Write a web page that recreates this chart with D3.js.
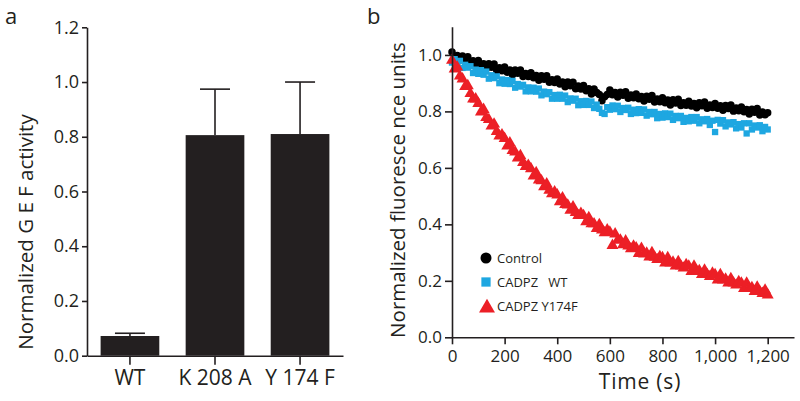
<!DOCTYPE html>
<html>
<head>
<meta charset="utf-8">
<script src="https://cdn.jsdelivr.net/npm/d3@7"></script>
<style>
  body { margin: 0; background: #fff; }
  svg { display: block; font-family: 'Open Sans', sans-serif; }
  .axis path, .axis line { stroke: #231f20; stroke-width: 1.6px; }
  .axis text { fill: #231f20; }
</style>
</head>
<body>
<script>
// ---- panel a: GEF activity
const mutants = ['WT', 'K 208 A', 'Y 174 F']
const gefMeans = [0.072, 0.806, 0.81]
const gefErrors = [0.01, 0.168, 0.19]
const gefTicks = [0, 0.2, 0.4, 0.6, 0.8, 1.0, 1.2]

// ---- panel b: fluorescence traces, one reading every 10 s from 0 to 1,200 s
const timeStep = 10
const controlValues = [
  1.010, 0.991, 0.998, 0.980, 0.996, 0.983, 0.994, 0.970, 0.979, 0.968,
  0.980, 0.962, 0.969, 0.952, 0.969, 0.956, 0.968, 0.945, 0.955, 0.944,
  0.957, 0.939, 0.947, 0.930, 0.947, 0.935, 0.947, 0.924, 0.934, 0.924,
  0.937, 0.919, 0.927, 0.910, 0.926, 0.914, 0.926, 0.903, 0.912, 0.902,
  0.915, 0.897, 0.904, 0.887, 0.904, 0.891, 0.903, 0.880, 0.890, 0.879,
  0.892, 0.873, 0.880, 0.862, 0.879, 0.867, 0.860, 0.838, 0.852, 0.860,
  0.876, 0.859, 0.867, 0.851, 0.868, 0.857, 0.870, 0.847, 0.858, 0.848,
  0.862, 0.845, 0.853, 0.837, 0.854, 0.843, 0.856, 0.833, 0.844, 0.834,
  0.848, 0.831, 0.840, 0.823, 0.841, 0.830, 0.843, 0.821, 0.831, 0.822,
  0.836, 0.819, 0.828, 0.813, 0.831, 0.820, 0.833, 0.811, 0.823, 0.814,
  0.828, 0.811, 0.820, 0.804, 0.821, 0.810, 0.823, 0.801, 0.812, 0.802,
  0.816, 0.799, 0.807, 0.791, 0.808, 0.797, 0.810, 0.787, 0.798, 0.788,
  0.795,
]
const wtValues = [
  0.973, 0.985, 0.969, 0.979, 0.954, 0.965, 0.955, 0.960, 0.936, 0.948,
  0.933, 0.946, 0.930, 0.941, 0.916, 0.928, 0.918, 0.924, 0.900, 0.913,
  0.898, 0.911, 0.897, 0.908, 0.884, 0.897, 0.888, 0.894, 0.871, 0.885,
  0.871, 0.884, 0.870, 0.881, 0.857, 0.870, 0.861, 0.868, 0.845, 0.858,
  0.845, 0.859, 0.845, 0.856, 0.833, 0.846, 0.838, 0.845, 0.822, 0.836,
  0.823, 0.837, 0.823, 0.835, 0.812, 0.824, 0.809, 0.795, 0.791, 0.815,
  0.806, 0.821, 0.808, 0.820, 0.798, 0.812, 0.805, 0.813, 0.791, 0.806,
  0.794, 0.808, 0.795, 0.807, 0.785, 0.798, 0.790, 0.798, 0.776, 0.791,
  0.778, 0.793, 0.780, 0.792, 0.770, 0.784, 0.776, 0.784, 0.763, 0.777,
  0.765, 0.780, 0.767, 0.780, 0.758, 0.772, 0.765, 0.773, 0.752, 0.767,
  0.727, 0.770, 0.757, 0.769, 0.747, 0.761, 0.754, 0.762, 0.740, 0.755,
  0.743, 0.758, 0.722, 0.758, 0.736, 0.750, 0.743, 0.751, 0.730, 0.745,
  0.736,
]
const y174fValues = [
  0.981, 0.950, 0.957, 0.925, 0.915, 0.888, 0.891, 0.863, 0.844, 0.844,
  0.828, 0.798, 0.807, 0.778, 0.771, 0.748, 0.755, 0.729, 0.713, 0.717,
  0.704, 0.677, 0.688, 0.661, 0.656, 0.635, 0.643, 0.619, 0.605, 0.609,
  0.597, 0.571, 0.583, 0.557, 0.554, 0.533, 0.543, 0.521, 0.508, 0.515,
  0.504, 0.480, 0.494, 0.470, 0.468, 0.450, 0.462, 0.442, 0.431, 0.439,
  0.431, 0.409, 0.424, 0.402, 0.402, 0.385, 0.399, 0.380, 0.370, 0.380,
  0.372, 0.325, 0.366, 0.344, 0.344, 0.328, 0.341, 0.323, 0.313, 0.323,
  0.317, 0.297, 0.315, 0.295, 0.298, 0.284, 0.300, 0.283, 0.275, 0.286,
  0.282, 0.263, 0.282, 0.263, 0.266, 0.252, 0.268, 0.252, 0.245, 0.257,
  0.252, 0.233, 0.252, 0.233, 0.236, 0.222, 0.238, 0.222, 0.215, 0.227,
  0.222, 0.203, 0.222, 0.203, 0.206, 0.192, 0.208, 0.192, 0.185, 0.197,
  0.192, 0.173, 0.192, 0.173, 0.176, 0.162, 0.178, 0.162, 0.155, 0.167,
  0.150,
]
const timeTicks = [0, 200, 400, 600, 800, 1000, 1200]
const fluorTicks = [0, 0.2, 0.4, 0.6, 0.8, 1.0]

const seriesDefs = [
  { name: 'Control', values: controlValues, color: '#000000', symbol: d3.symbolCircle, size: 44, legendSize: 95 },
  { name: 'CADPZ   WT', values: wtValues, color: '#1ea7e1', symbol: d3.symbolSquare, size: 40, legendSize: 86 },
  { name: 'CADPZ Y174F', values: y174fValues, color: '#ec1f26', symbol: d3.symbolTriangle, size: 62, legendSize: 110 },
]

const svg = d3.select('body').append('svg')
  .attr('width', 800)
  .attr('height', 401)

const ink = '#231f20'

// ================= panel a =================
const xa = d3.scaleBand()
  .domain(mutants)
  .range([87, 343])
  .paddingInner(0.31)
  .paddingOuter(0.16)

const ya = d3.scaleLinear()
  .domain([0, 1.2])
  .range([355.7, 27.3])

const panelA = svg.append('g')

panelA.selectAll('rect.bar')
  .data(mutants)
  .join('rect')
  .attr('class', 'bar')
  .attr('x', d => xa(d))
  .attr('width', xa.bandwidth())
  .attr('y', (d, i) => ya(gefMeans[i]))
  .attr('height', (d, i) => ya(0) - ya(gefMeans[i]))
  .attr('fill', ink)

const errG = panelA.selectAll('g.err')
  .data(mutants)
  .join('g')
  .attr('class', 'err')
  .attr('stroke', ink)
  .attr('stroke-width', 1.6)

errG.append('line')
  .attr('x1', d => xa(d) + xa.bandwidth() / 2)
  .attr('x2', d => xa(d) + xa.bandwidth() / 2)
  .attr('y1', (d, i) => ya(gefMeans[i]))
  .attr('y2', (d, i) => ya(gefMeans[i] + gefErrors[i]))

errG.append('line')
  .attr('x1', d => xa(d) + xa.bandwidth() / 2 - 15)
  .attr('x2', d => xa(d) + xa.bandwidth() / 2 + 15)
  .attr('y1', (d, i) => ya(gefMeans[i] + gefErrors[i]))
  .attr('y2', (d, i) => ya(gefMeans[i] + gefErrors[i]))

panelA.append('g')
  .attr('class', 'axis')
  .attr('transform', `translate(87,0)`)
  .call(d3.axisLeft(ya).tickValues(gefTicks).tickFormat(d3.format('.1f')).tickSize(5).tickSizeOuter(0).tickPadding(3))
  .call(g => g.selectAll('text').attr('font-size', 18).attr('font-family', 'Open Sans'))

panelA.append('g')
  .attr('class', 'axis')
  .attr('transform', `translate(0,${ya(0)})`)
  .call(d3.axisBottom(xa).tickSize(9).tickSizeOuter(0).tickPadding(5))
  .call(g => g.selectAll('text').attr('font-size', 21).attr('font-family', 'Open Sans'))

panelA.append('text')
  .attr('transform', 'translate(33,232) rotate(-90)')
  .attr('text-anchor', 'middle')
  .attr('font-size', 20.5)
  .attr('fill', ink)
  .text('Normalized G E F activity')

panelA.append('text')
  .attr('x', 5)
  .attr('y', 23.5)
  .attr('font-size', 22)
  .attr('fill', ink)
  .text('a')

// ================= panel b =================
const xb = d3.scaleLinear()
  .domain([0, 1300])
  .range([452, 794])

const yb = d3.scaleLinear()
  .domain([0, 1.1])
  .range([337.3, 26.7])

const panelB = svg.append('g')

seriesDefs.forEach(s => {
  const sym = d3.symbol().type(s.symbol).size(s.size)
  panelB.append('g')
    .selectAll('path')
    .data(s.values)
    .join('path')
    .attr('d', sym)
    .attr('transform', (d, i) => `translate(${xb(i * timeStep)},${yb(d)})`)
    .attr('fill', s.color)
})

panelB.append('g')
  .attr('class', 'axis')
  .attr('transform', `translate(452,0)`)
  .call(d3.axisLeft(yb).tickValues(fluorTicks).tickFormat(d3.format('.1f')).tickSize(7).tickSizeOuter(0).tickPadding(3))
  .call(g => g.selectAll('text').attr('font-size', 17).attr('font-family', 'Open Sans'))

panelB.append('g')
  .attr('class', 'axis')
  .attr('transform', `translate(0,${yb(0)})`)
  .call(d3.axisBottom(xb).tickValues(timeTicks).tickFormat(d3.format(',')).tickSize(7).tickSizeOuter(0).tickPadding(6))
  .call(g => g.selectAll('text').attr('font-size', 17).attr('font-family', 'Open Sans'))

panelB.append('text')
  .attr('x', 640)
  .attr('y', 389)
  .attr('text-anchor', 'middle')
  .attr('font-size', 21)
  .attr('letter-spacing', 0.8)
  .attr('fill', ink)
  .text('Time (s)')

panelB.append('text')
  .attr('transform', 'translate(405,190) rotate(-90)')
  .attr('text-anchor', 'middle')
  .attr('font-size', 20.5)
  .attr('fill', ink)
  .text('Normalized fluoresce nce units')

panelB.append('text')
  .attr('x', 367)
  .attr('y', 23.5)
  .attr('font-size', 22)
  .attr('fill', ink)
  .text('b')

// legend
const legend = panelB.append('g')
  .attr('transform', 'translate(486,258)')

seriesDefs.forEach((s, i) => {
  const row = legend.append('g')
    .attr('transform', `translate(0,${i * 24})`)
  row.append('path')
    .attr('d', d3.symbol().type(s.symbol).size(s.legendSize))
    .attr('transform', i === 2 ? 'translate(1,2)' : null)
    .attr('fill', s.color)
  row.append('text')
    .attr('x', 11)
    .attr('y', 4.5)
    .attr('font-size', 13)
    .attr('fill', ink)
    .style('white-space', 'pre')
    .text(s.name)
})
</script>
</body>
</html>
